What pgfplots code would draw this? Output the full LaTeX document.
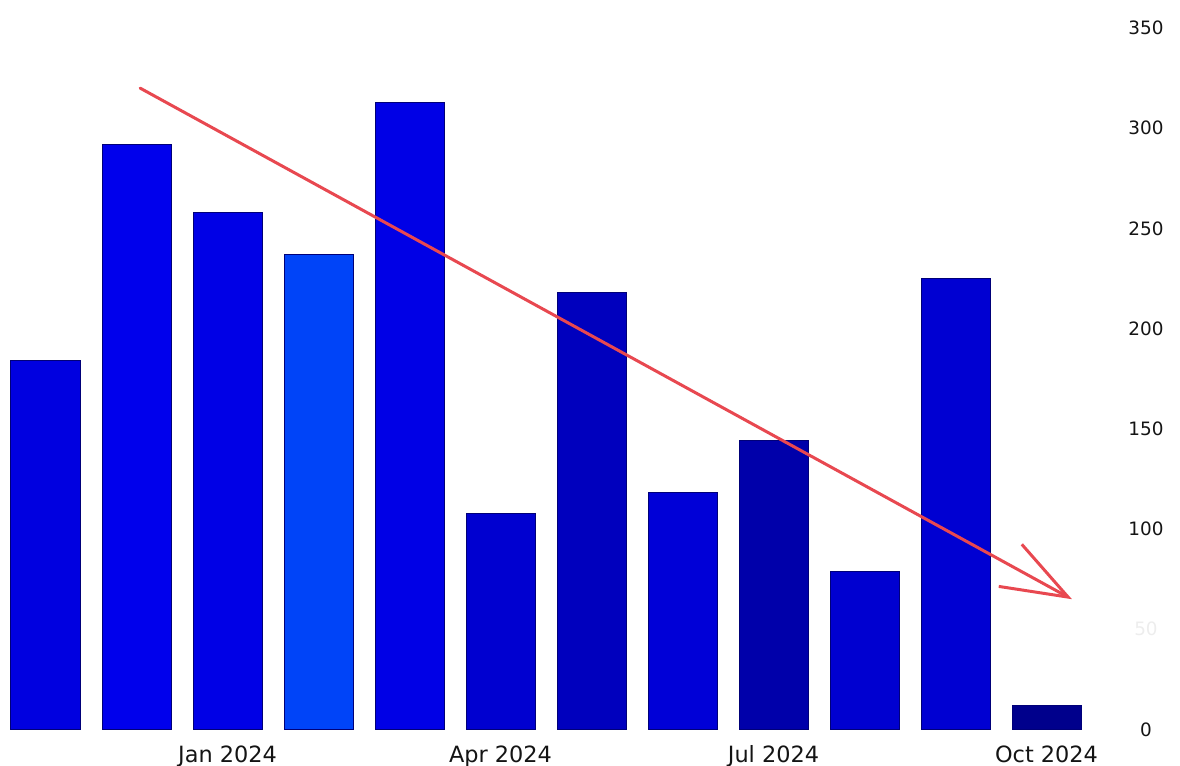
\documentclass[border=0pt]{standalone}
\usepackage{pgfplots}
\pgfplotsset{compat=1.18}
\usepackage{fontspec}
\setmainfont{DejaVu Sans}
\usetikzlibrary{arrows.meta}
\definecolor{edgeblue}{RGB}{0,0,120}
\definecolor{c1}{RGB}{0,0,224}
\definecolor{c2}{RGB}{0,0,236}
\definecolor{c3}{RGB}{0,0,230}
\definecolor{c4}{RGB}{0,68,248}
\definecolor{c5}{RGB}{0,0,230}
\definecolor{c6}{RGB}{0,0,208}
\definecolor{c7}{RGB}{0,0,190}
\definecolor{c8}{RGB}{0,0,215}
\definecolor{c9}{RGB}{0,0,170}
\definecolor{c10}{RGB}{0,0,208}
\definecolor{c11}{RGB}{0,0,210}
\definecolor{c12}{RGB}{0,0,140}
\definecolor{arrowred}{RGB}{232,72,80}
\definecolor{ticktext}{RGB}{20,20,20}
\begin{document}
\begin{tikzpicture}
\begin{axis}[
  name=ax,
  scale only axis,
  width=546pt, height=350.75pt,
  xmin=-0.5, xmax=11.5, ymin=0, ymax=350,
  enlargelimits=false,
  ybar, bar width=34.5pt, bar shift=0pt,
  axis line style={draw=none},
  major tick length=0pt,
  tick style={draw=none},
  xtick={2,5,8,11},
  xticklabels={Jan 2024,Apr 2024,Jul 2024,Oct 2024},
  xticklabel style={anchor=base, yshift=-16.75pt, font=\fontsize{11.2}{13}\selectfont, text=ticktext},
  ytick={0,50,100,150,200,250,300,350},
  yticklabels={0,\textcolor{black!7}{50},100,150,200,250,300,350},
  ytick pos=right, yticklabel pos=right,
  yticklabel style={anchor=center, xshift=27pt, font=\fontsize{9.2}{11}\selectfont, text=ticktext},
  clip=false,
  every axis plot/.append style={draw=edgeblue, line width=0.5pt},
]
\addplot[fill=c1]  coordinates {(0,184)};
\addplot[fill=c2]  coordinates {(1,292)};
\addplot[fill=c3]  coordinates {(2,258)};
\addplot[fill=c4]  coordinates {(3,237)};
\addplot[fill=c5]  coordinates {(4,313)};
\addplot[fill=c6]  coordinates {(5,108)};
\addplot[fill=c7]  coordinates {(6,218)};
\addplot[fill=c8]  coordinates {(7,118)};
\addplot[fill=c9]  coordinates {(8,144)};
\addplot[fill=c10] coordinates {(9,79)};
\addplot[fill=c11] coordinates {(10,225)};
\addplot[fill=c12] coordinates {(11,12)};
\addplot[sharp plot, mark=none, draw=arrowred, line width=1.5pt, line cap=round,
  -{Straight Barb[length=33pt, width=24pt, line width=1.5pt]}]
  coordinates {(1.04,320) (11.28,65)};
\end{axis}
\pgfresetboundingbox
\useasboundingbox ([yshift=-18.25pt]ax.south west) rectangle ++(590pt,383pt);
\end{tikzpicture}
\end{document}
